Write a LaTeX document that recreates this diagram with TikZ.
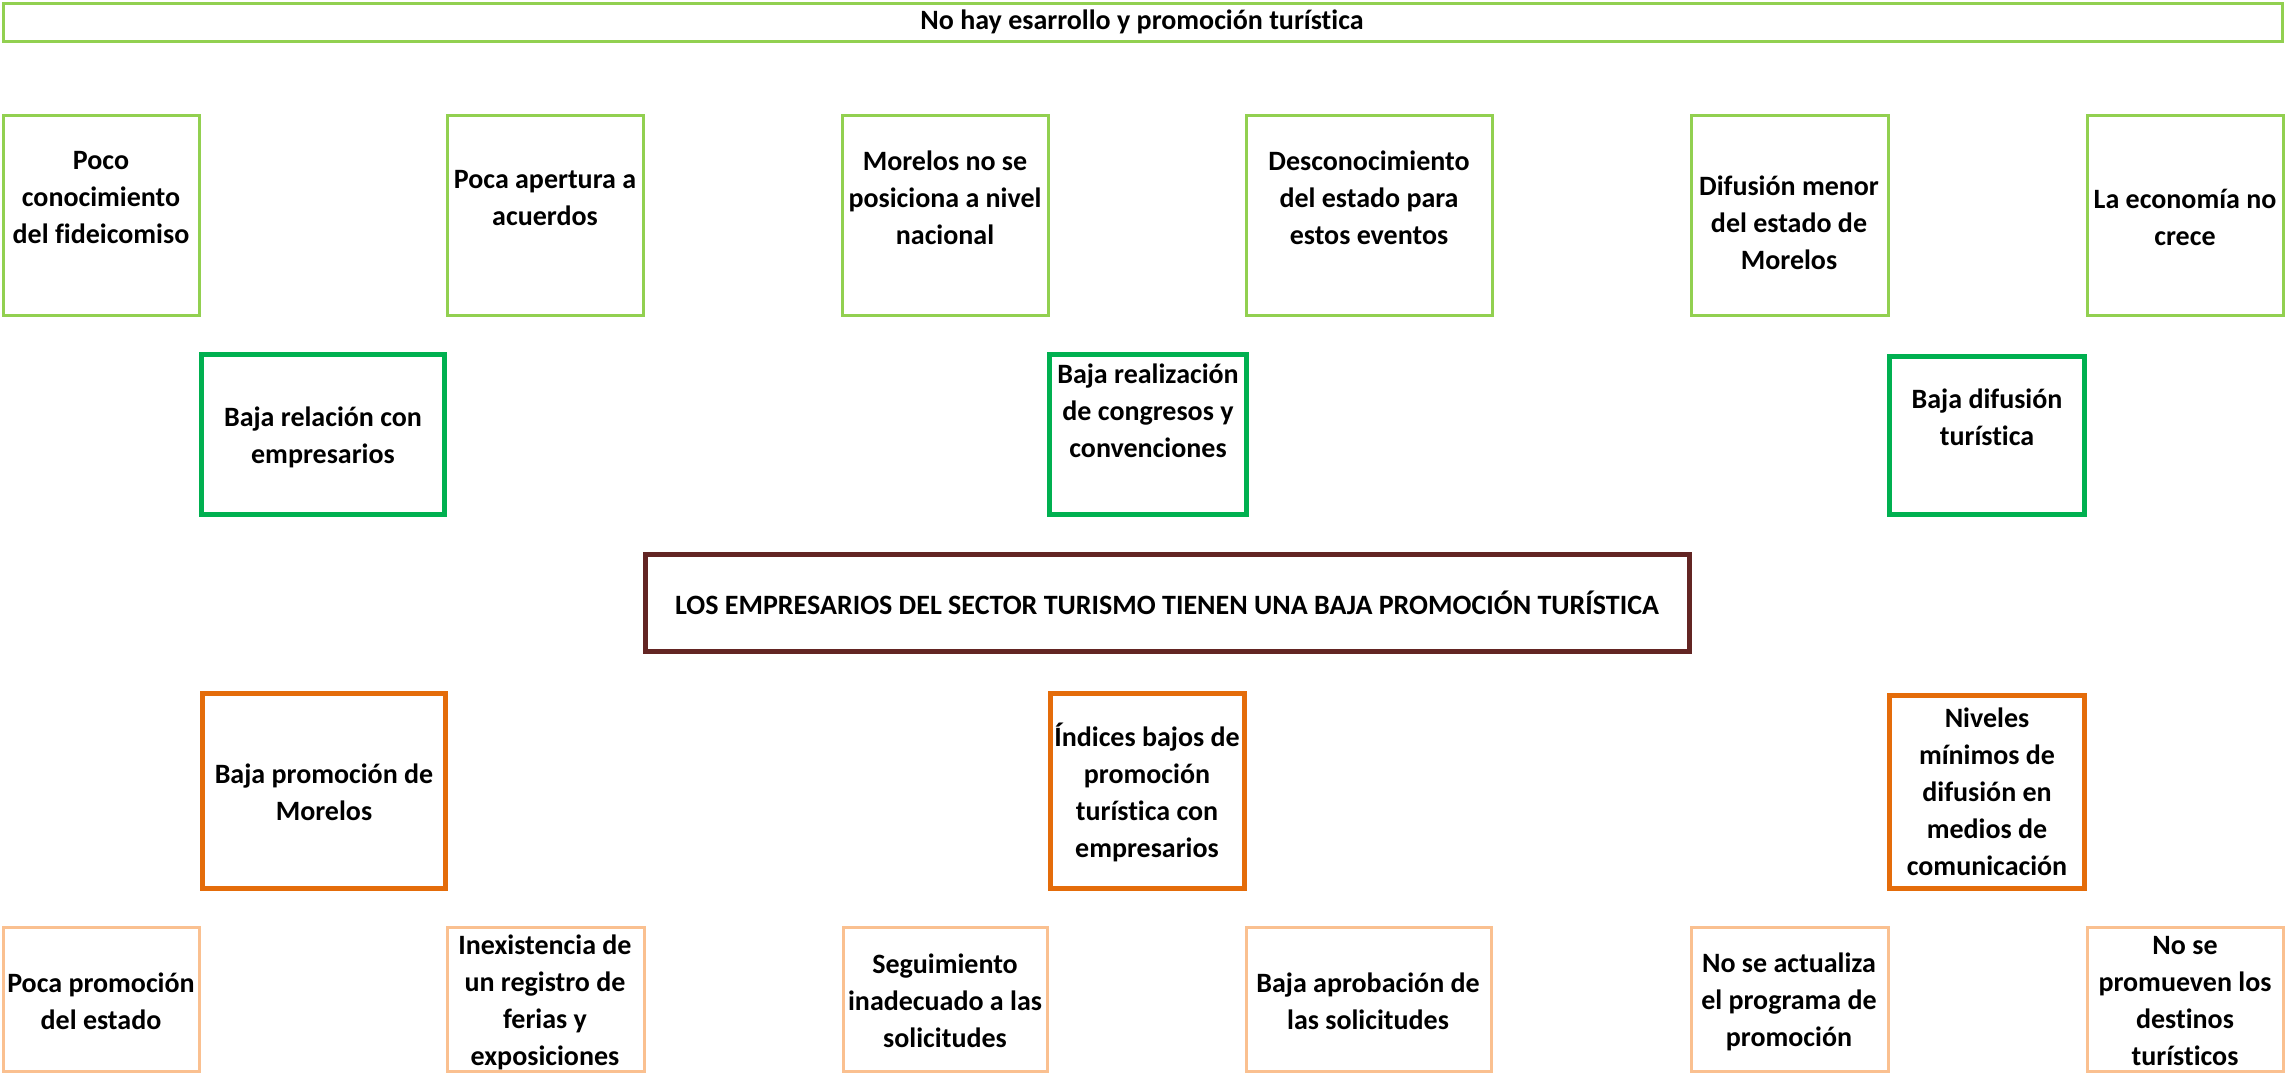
\documentclass[tikz,border=0pt]{standalone}
\usepackage{fontspec}
\setmainfont{Carlito}[Ligatures={NoCommon,NoContextual}]
\definecolor{efgreen}{HTML}{92D050}
\definecolor{edgreen}{HTML}{00B050}
\definecolor{probred}{HTML}{632523}
\definecolor{cdorange}{HTML}{E46C0A}
\definecolor{ciorange}{HTML}{FAC090}

\begin{document}
\begin{tikzpicture}[x=0.5pt, y=-0.5pt,
  font=\bfseries\fontsize{14}{18.5}\selectfont,
  txt/.style={align=center, inner sep=0pt},
  thin/.style={line width=1.5pt},
  thick/.style={line width=2.5pt}]
  \useasboundingbox (0,0) rectangle (2285,1073);
  % fin
  \draw[thin, efgreen] (3,3) rectangle (2282,41);
  \node[txt] (fin) at (1142,22) {No hay esarrollo y promoción turística};
  % efectos indirectos
  \draw[thin, efgreen] (3,115) rectangle (199,315);
  \draw[thin, efgreen] (447,115) rectangle (643,315);
  \draw[thin, efgreen] (842,115) rectangle (1048,315);
  \draw[thin, efgreen] (1246,115) rectangle (1492,315);
  \draw[thin, efgreen] (1691,115) rectangle (1888,315);
  \draw[thin, efgreen] (2087,115) rectangle (2283,315);
  \node[txt] (ei1) at (101,198) {Poco\\conocimiento\\del fideicomiso};
  \node[txt] (ei2) at (545,198) {Poca apertura a\\acuerdos};
  \node[txt] (ei3) at (945,198) {Morelos no se\\posiciona a nivel\\nacional};
  \node[txt] (ei4) at (1369,198) {Desconocimiento\\del estado para\\estos eventos};
  \node[txt] (ei5) at (1789,223) {Difusión menor\\del estado de\\Morelos};
  \node[txt] (ei6) at (2185,217) {La economía no\\crece};
  % efectos directos
  \draw[thick, edgreen] (201.5,354.5) rectangle (444.5,514.5);
  \draw[thick, edgreen] (1049.5,354.5) rectangle (1246.5,514.5);
  \draw[thick, edgreen] (1889.5,356) rectangle (2084.5,514);
  \node[txt] (ed1) at (323,437) {Baja relación con\\empresarios};
  \node[txt] (ed2) at (1148,411) {Baja realización\\de congresos y\\convenciones};
  \node[txt] (ed3) at (1987,417) {Baja difusión\\turística};
  % problema central
  \draw[thick, probred] (645.5,554.5) rectangle (1689.5,651.5);
  \node[txt] (prob) at (1167,603) {LOS EMPRESARIOS DEL SECTOR TURISMO TIENEN UNA BAJA PROMOCIÓN TURÍSTICA};
  % causas directas
  \draw[thick, cdorange] (202.5,693.5) rectangle (445.5,888.5);
  \draw[thick, cdorange] (1050.5,693.5) rectangle (1244.5,888.5);
  \draw[thick, cdorange] (1889.5,695) rectangle (2084.5,888);
  \node[txt] (cd1) at (324,792) {Baja promoción de\\Morelos};
  \node[txt] (cd2) at (1147,792) {Índices bajos de\\promoción\\turística con\\empresarios};
  \node[txt] (cd3) at (1987,792) {Niveles\\mínimos de\\difusión en\\medios de\\comunicación};
  % causas indirectas
  \draw[thin, ciorange] (3,927.5) rectangle (199,1071);
  \draw[thin, ciorange] (447,927.5) rectangle (644,1071);
  \draw[thin, ciorange] (843,927.5) rectangle (1047,1071);
  \draw[thin, ciorange] (1246,927.5) rectangle (1491,1071);
  \draw[thin, ciorange] (1691,927.5) rectangle (1888,1071);
  \draw[thin, ciorange] (2087,927.5) rectangle (2283,1071);
  \node[txt] (ci1) at (101,1001) {Poca promoción\\del estado};
  \node[txt] (ci2) at (545,1002) {Inexistencia de\\un registro de\\ferias y\\exposiciones};
  \node[txt] (ci3) at (945,1001) {Seguimiento\\inadecuado a las\\solicitudes};
  \node[txt] (ci4) at (1368,1001) {Baja aprobación de\\las solicitudes};
  \node[txt] (ci5) at (1789,1002) {No se actualiza\\el programa de\\promoción};
  \node[txt] (ci6) at (2185,1001) {No se\\promueven los\\destinos\\turísticos};
\end{tikzpicture}
\end{document}
